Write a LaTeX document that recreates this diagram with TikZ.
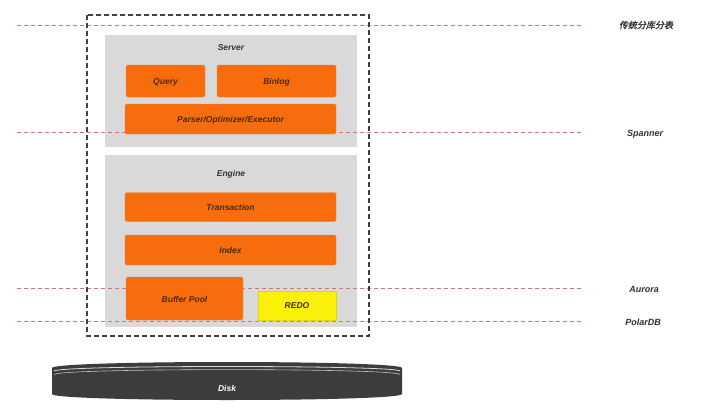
\documentclass[tikz,border=0pt]{standalone}
\usepackage{fontspec}
\setmainfont{Liberation Sans}
\newfontfamily\cjk[FakeSlant=0.2,FakeBold=1.5]{Noto Sans CJK SC}
\definecolor{orng}{RGB}{247,108,12}
\definecolor{yel}{RGB}{250,240,10}
\definecolor{gbox}{RGB}{217,217,217}
\definecolor{redd}{RGB}{205,120,120}
\definecolor{txt}{RGB}{70,45,30}
\definecolor{disk}{RGB}{60,60,60}
\begin{document}
\begin{tikzpicture}[x=1pt,y=-1pt,
  lbl/.style={font=\fontsize{8.5}{9}\selectfont\bfseries\itshape, text=txt, text height=6.2pt, text depth=0pt},
  obox/.style={fill=orng, draw=orng!80!white, rounded corners=1.5pt, inner sep=0pt, lbl},
  gray/.style={fill=gbox, draw=none, inner sep=0pt},
  reddash/.style={draw=redd, line width=0.6pt, dash pattern=on 4pt off 3pt},
  side/.style={font=\fontsize{9}{10}\selectfont\bfseries\itshape, text=black!80, anchor=center}
]
\useasboundingbox (0,0) rectangle (720,415);
\fill[white] (0,0) rectangle (720,415);
% gray panels
\node[gray, minimum width=252pt, minimum height=112pt] (server) at (231,91) {};
\node[gray, minimum width=252pt, minimum height=172pt] (engine) at (231,241) {};
\node[lbl, text=black!80] (serverlbl) at (231,47) {Server};
\node[lbl, text=black!80] (enginelbl) at (231,173) {Engine};
% red dashed lines
\coordinate (l1a) at (17,25);  \coordinate (l1b) at (583,25);
\coordinate (l2a) at (17,132); \coordinate (l2b) at (583,132);
\coordinate (l3a) at (17,288); \coordinate (l3b) at (583,288);
\coordinate (l4a) at (17,321); \coordinate (l4b) at (583,321);
\draw[reddash] (l1a) -- (l1b);
\draw[reddash] (l2a) -- (l2b);
\draw[reddash] (l3a) -- (l3b);
\draw[reddash] (l4a) -- (l4b);
% orange boxes
\node[obox, minimum width=79pt, minimum height=32pt] (query) at (165.5,81) {Query};
\node[obox, minimum width=119pt, minimum height=32pt] (binlog) at (276.5,81) {Binlog};
\node[obox, minimum width=211pt, minimum height=30pt] (parser) at (230.5,119) {Parser/Optimizer/Executor};
\node[obox, minimum width=211pt, minimum height=29pt] (trans) at (230.5,207) {Transaction};
\node[obox, minimum width=211pt, minimum height=30pt] (index) at (230.5,250) {Index};
\node[obox, minimum width=117pt, minimum height=43pt] (buffer) at (184.5,298.5) {};
\node[lbl] (bufferlbl) at (184.5,299) {Buffer Pool};
\node[obox, fill=yel, draw=yel!90!black, rounded corners=0pt, minimum width=78pt, minimum height=29pt] (redo) at (297,305.5) {REDO};
% dashed frame
\draw[draw=black!75, line width=1.1pt, dash pattern=on 5pt off 3pt] (87,15) rectangle (369,336);
% side labels
\node[side, font=\cjk\fontsize{9}{10}\selectfont] (t1) at (646,25) {传统分库分表};
\node[side] (t2) at (645,134) {Spanner};
\node[side] (t3) at (644,289) {Aurora};
\node[side] (t4) at (643,322) {PolarDB};
% disk
\fill[disk] (52,368) .. controls (52,360) and (402,360) .. (402,368)
  -- (402,394) .. controls (402,402) and (52,402) .. (52,394) -- cycle;
\draw[white!85!black, line width=0.8pt] (54,371) .. controls (60,365) and (396,365) .. (400,371);
\draw[white!75!black, line width=0.6pt] (54,374.5) .. controls (60,368) and (396,368) .. (400,374.5);
\node[font=\fontsize{8.5}{9}\selectfont\bfseries\itshape, text=white] (disklbl) at (227,388) {Disk};
\end{tikzpicture}
\end{document}
